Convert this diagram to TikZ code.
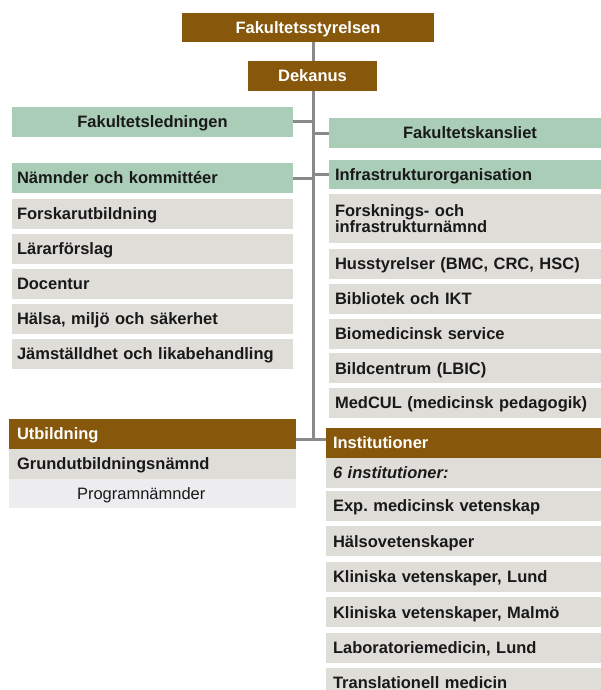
\documentclass[tikz,border=0pt]{standalone}
\usepackage{fontspec}
\setmainfont{Liberation Sans}
\usepackage{xcolor}
\usepackage{tikz}
\definecolor{brownhead}{RGB}{135,88,12}
\definecolor{greenhead}{RGB}{170,205,184}
\definecolor{greybox}{RGB}{223,221,216}
\definecolor{lightbox}{RGB}{237,237,240}
\definecolor{linegrey}{RGB}{138,138,138}
\definecolor{boxtext}{RGB}{25,25,25}

\begin{document}
\begin{tikzpicture}[x=1pt,y=-1pt,
    box/.style={anchor=north west,inner ysep=0pt,outer sep=0pt,minimum height=30pt,
      align=left,text=boxtext,text height=11.8pt,text depth=0pt,
      font=\fontsize{16.5}{16.5}\selectfont\bfseries\frenchspacing},
    brownbox/.style={box,fill=brownhead,text=white},
    greenbox/.style={box,fill=greenhead},
    greybox/.style={box,fill=greybox},
    leftcol/.style={inner xsep=5pt,text width=271pt},
    rightcol/.style={inner xsep=6pt,text width=260pt},
    instcol/.style={inner xsep=7pt,text width=261pt},
    conn/.style={draw=linegrey,line width=3pt}]
    \useasboundingbox (0,0) rectangle (601,690);
    \clip (0,0) rectangle (601,690);

    \node[brownbox,align=center,inner xsep=5pt,text width=242pt,minimum height=29pt] (styrelsen) at (182,13) {Fakultetsstyrelsen};
    \node[brownbox,align=center,inner xsep=5pt,text width=119pt] (dekanus) at (248,61) {Dekanus};

    \node[greenbox,leftcol,align=center,minimum height=30pt] (ledning) at (12,107) {Fakultetsledningen};
    \node[greenbox,leftcol] (namnder) at (12,163) {Nämnder och kommittéer};
    \foreach \txt [count=\i] in {Forskarutbildning,Lärarförslag,Docentur,{Hälsa, miljö och säkerhet},Jämställdhet och likabehandling}
        \node[greybox,leftcol] (komm\i) at (12,164+35*\i) {\txt};

    \node[greenbox,inner xsep=6pt,text width=270pt,align=center] (kansli) at (329,118) {Fakultetskansliet};
    \node[greenbox,rightcol,minimum height=29pt] (infra) at (329,160) {Infrastrukturorganisation};
    \node[greybox,rightcol,minimum height=49pt,text depth=16.5pt] (forsk) at (329,194) {Forsknings- och\\infrastrukturnämnd};
    \foreach \txt [count=\i] in {{Husstyrelser (BMC, CRC, HSC)},Bibliotek och IKT,Biomedicinsk service,Bildcentrum (LBIC),MedCUL (medicinsk pedagogik)}
        \node[greybox,rightcol] (infra\i) at (329,214.25+34.75*\i) {\txt};

    \node[brownbox,inner xsep=8pt,text width=271pt] (utb) at (9,419) {Utbildning};
    \node[greybox,inner xsep=8pt,text width=271pt] (grund) at (9,449) {Grundutbildningsnämnd};
    \node[box,fill=lightbox,inner xsep=8pt,text width=271pt,minimum height=29pt] (program) at (9,479) {\hspace*{60pt}\mdseries Programnämnder};

    \node[brownbox,instcol] (inst) at (326,428) {Institutioner};
    \node[greybox,instcol,minimum height=29.5pt] (sexinst) at (326,458) {\itshape 6 institutioner:};
    \foreach \txt [count=\i] in {Exp. medicinsk vetenskap,Hälsovetenskaper,{Kliniska vetenskaper, Lund},{Kliniska vetenskaper, Malmö},{Laboratoriemedicin, Lund},Translationell medicin}
        \node[greybox,instcol] (inst\i) at (326,455.6+35.4*\i) {\txt};

    \coordinate (spine) at (313,439);
    \draw[conn] (dekanus.north -| spine) -- (styrelsen.south -| spine);
    \draw[conn] (dekanus.south -| spine) -- (spine);
    \draw[conn] (ledning.east) -- (ledning.east -| spine);
    \draw[conn] (namnder.east) -- (namnder.east -| spine);
    \draw[conn] (spine |- kansli.west) -- (kansli.west);
    \draw[conn] (spine |- infra.west) -- (infra.west);
    \draw[conn] (utb.east |- spine) -- (inst.west |- spine);
\end{tikzpicture}
\end{document}
